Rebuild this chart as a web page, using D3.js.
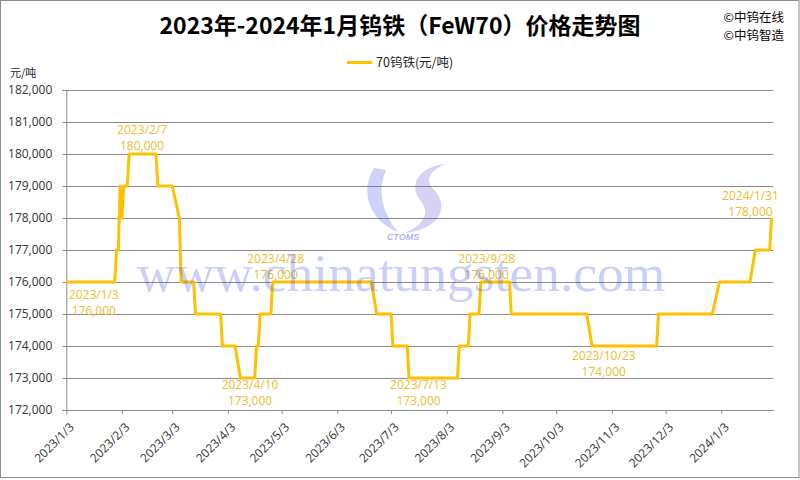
<!DOCTYPE html>
<html><head><meta charset="utf-8">
<script src="https://cdn.jsdelivr.net/npm/d3@7/dist/d3.min.js"></script>
<style>body{margin:0;background:#fff}svg{display:block}</style>
</head><body><svg id="c" width="800" height="480"></svg>
<script>
// ---------- data ----------
const dates = ["2023-01-03","2023-01-30","2023-01-31","2023-02-01","2023-02-02","2023-02-03","2023-02-04","2023-02-06","2023-02-07","2023-02-22","2023-02-23","2023-03-03","2023-03-07","2023-03-08","2023-03-15","2023-03-16","2023-03-30","2023-03-31","2023-04-07","2023-04-10","2023-04-18","2023-04-19","2023-04-20","2023-04-21","2023-04-27","2023-04-28","2023-06-22","2023-06-25","2023-07-03","2023-07-04","2023-07-12","2023-07-13","2023-08-09","2023-08-10","2023-08-15","2023-08-16","2023-08-21","2023-08-22","2023-09-07","2023-09-08","2023-10-20","2023-10-23","2023-11-28","2023-11-29","2023-12-29","2024-01-02","2024-01-19","2024-01-22","2024-01-30","2024-01-31"];
const prices = [176000,176000,177000,177000,179000,178000,179000,179000,180000,180000,179000,179000,178000,176000,176000,175000,175000,174000,174000,173000,173000,174000,174000,175000,175000,176000,176000,175000,175000,174000,174000,173000,173000,174000,174000,175000,175000,176000,176000,175000,175000,174000,174000,175000,175000,176000,176000,177000,177000,178000];
const yTickValues = [172000,173000,174000,175000,176000,177000,178000,179000,180000,181000,182000];
const xTickLabels = ["2023/1/3","2023/2/3","2023/3/3","2023/4/3","2023/5/3","2023/6/3","2023/7/3","2023/8/3","2023/9/3","2023/10/3","2023/11/3","2023/12/3","2024/1/3"];
const annoDates = ["2023/1/3","2023/2/7","2023/4/10","2023/4/28","2023/7/13","2023/9/28","2023/10/23","2024/1/31"];
const annoValues = [176000,180000,173000,176000,173000,176000,174000,178000];
const titleText = "2023年-2024年1月钨铁（FeW70）价格走势图";
const seriesName = "70钨铁(元/吨)";
const unitText = "元/吨";
const credits = ["©中钨在线","©中钨智造"];
const watermark = "www.chinatungsten.com";

// ---------- layout ----------
const annoOffsets = [[27.5,13],[13,-24.7],[9.7,7],[3,-23],[9.5,7],[-60.5,-23],[11.7,10],[-21,-22.3]];
const FONT = "'Open Sans','Noto Sans CJK SC',sans-serif";
const CJK = "'Noto Sans CJK SC','Open Sans',sans-serif";
const GOLD = "#FFC000", LABEL = "#F0BC2C", GRID = "#8a8a8a";

const svg = d3.select("#c");
const parseISO = d3.timeParse("%Y-%m-%d");
const parseSlash = d3.timeParse("%Y/%m/%d");
const series = dates.map((d,i)=>({date:parseISO(d), value:prices[i]}));

const x = d3.scaleTime().domain([parseISO("2023-01-03"), parseISO("2024-02-01")]).range([66.3, 773.3]);
const y = d3.scaleLinear().domain([172000,182000]).range([410,90]);

svg.append("rect").attr("x",0.5).attr("y",0.5).attr("width",798.5).attr("height",477)
  .attr("fill","#fff").attr("stroke","#8c8c8c");

// gridlines
svg.append("g").selectAll("line").data(yTickValues.filter(v=>v>172000)).join("line")
  .attr("x1",x.range()[0]).attr("x2",x.range()[1])
  .attr("y1",d=>Math.round(y(d))+0.5).attr("y2",d=>Math.round(y(d))+0.5)
  .attr("stroke",GRID).attr("stroke-width",1);

// y axis
const yAxis = d3.axisLeft(y).tickValues(yTickValues).tickFormat(d3.format(",")).tickSize(4).tickPadding(4);
const gy = svg.append("g").attr("transform",`translate(${x.range()[0]},0)`).call(yAxis);
gy.select(".domain").attr("stroke",GRID);
gy.selectAll(".tick line").attr("stroke",GRID);
gy.selectAll("text").attr("font-family",FONT).attr("font-size",12).attr("fill","#333").attr("dx",-6);

// x axis
const xTicks = xTickLabels.map(parseSlash);
const xAxis = d3.axisBottom(x).tickValues(xTicks).tickFormat(d3.timeFormat("%Y/%-m/%-d")).tickSize(4).tickSizeOuter(0);
const gx = svg.append("g").attr("transform",`translate(0,${y.range()[0]})`).call(xAxis);
gx.select(".domain").attr("stroke",GRID);
gx.selectAll(".tick line").attr("stroke",GRID);
gx.selectAll("text").attr("font-family",FONT).attr("font-size",12).attr("fill","#333")
  .attr("text-anchor","end").attr("dy","0.35em")
  .attr("transform","translate(5,15) rotate(-45)").attr("y",0).attr("x",0);

// series line
svg.append("path").datum(series)
  .attr("d", d3.line().x(d=>x(d.date)).y(d=>y(d.value)))
  .attr("fill","none").attr("stroke",GOLD).attr("stroke-width",3).attr("stroke-linejoin","round");

// annotations
const fmt = d3.format(",");
const annG = svg.append("g").attr("font-family",FONT).attr("font-size",12).attr("fill",LABEL).attr("text-anchor","middle");
annoDates.forEach((d,i)=>{
  const px = x(parseSlash(d)) + annoOffsets[i][0];
  const py = y(annoValues[i]) + annoOffsets[i][1];
  annG.append("text").attr("x",px).attr("y",py).attr("dy","0.35em").text(d);
  annG.append("text").attr("x",px).attr("y",py+16).attr("dy","0.35em").text(fmt(annoValues[i]));
});

// title
svg.append("text").attr("x",400).attr("y",26).attr("dy","0.35em").attr("text-anchor","middle")
  .attr("font-family",CJK).attr("font-weight","bold").attr("font-size",23).attr("fill","#000").text(titleText);
credits.forEach((c,i)=>svg.append("text").attr("x",723.5).attr("y",17.5+i*18.5).attr("dy","0.35em")
  .attr("font-family",CJK).attr("font-size",12.5).attr("fill","#000").text(c));

// legend
svg.append("line").attr("x1",347).attr("x2",372).attr("y1",62.5).attr("y2",62.5).attr("stroke",GOLD).attr("stroke-width",3);
svg.append("text").attr("x",376).attr("y",62.5).attr("dy","0.35em").attr("font-family",CJK).attr("font-size",12.5).attr("fill","#222").text(seriesName);
svg.append("text").attr("x",10).attr("y",73).attr("dy","0.35em").attr("font-family",CJK).attr("font-size",11).attr("fill","#222").text(unitText);

// watermark
const wm = svg.append("g").attr("pointer-events","none");
wm.append("path").attr("d","M374,168 C358,194 372,222 398,232 C384,214 376,194 386,170 Z").attr("fill","rgba(70,100,230,0.28)");
wm.append("path").attr("d","M446,164 C420,166 408,184 420,200 C430,212 426,224 404,233 C440,230 450,206 434,190 C425,181 428,171 446,164 Z").attr("fill","rgba(110,90,220,0.28)");
wm.append("text").attr("x",403).attr("y",240).attr("text-anchor","middle").attr("font-family","'Liberation Sans',sans-serif")
  .attr("font-style","italic").attr("font-weight","bold").attr("font-size",9).attr("fill","rgba(60,80,225,0.45)").text("CTOMS");
wm.append("text").attr("x",137).attr("y",291).attr("font-family","'Liberation Serif',serif").attr("font-size",53.5)
  .attr("fill","rgba(60,80,225,0.27)").text(watermark);
</script></body></html>
